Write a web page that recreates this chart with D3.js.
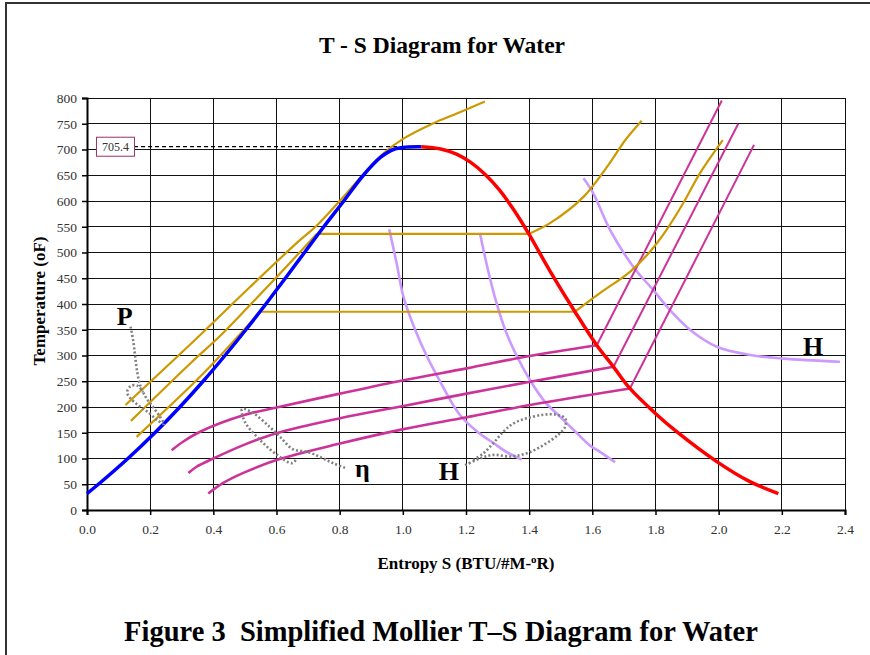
<!DOCTYPE html>
<html>
<head>
<meta charset="utf-8">
<script src="https://cdn.jsdelivr.net/npm/d3@7/dist/d3.min.js"></script>
<style>
  body { margin: 0; background: #fff; }
  text { font-family: "Liberation Serif", "DejaVu Serif", serif; }
</style>
</head>
<body>
<div id="chart"></div>
<script>
// axis ticks
const xTicks = [0, 0.2, 0.4, 0.6, 0.8, 1.0, 1.2, 1.4, 1.6, 1.8, 2.0, 2.2, 2.4];
const yTicks = [0, 50, 100, 150, 200, 250, 300, 350, 400, 450, 500, 550, 600, 650, 700, 750, 800];

// saturation dome (S, T)
const satLiquid = [[0, 32], [0.0361, 50], [0.1295, 100], [0.215, 150], [0.294, 200], [0.3677, 250],
  [0.4369, 300], [0.5029, 350], [0.5664, 400], [0.628, 450], [0.6887, 500], [0.7497, 550],
  [0.8131, 600], [0.875, 650], [0.93, 685], [0.97, 700], [1.01, 704.6], [1.058, 705.4]];
const satVapor = [[1.058, 705.4], [1.12, 701], [1.17, 691], [1.215, 675], [1.26, 652], [1.305, 622],
  [1.35, 584], [1.398, 537], [1.466, 464], [1.545, 385], [1.614, 320], [1.667, 278], [1.719, 236],
  [1.799, 188], [1.867, 152], [1.994, 94], [2.099, 55], [2.189, 32]];
const criticalT = 705.4;

// constant pressure lines (gold)
const isobarHigh = [[0.122, 204], [0.34, 329], [0.516, 433], [0.674, 524], [0.727, 552], [0.8, 600],
  [0.864, 644], [0.938, 692], [1.002, 721], [1.097, 751], [1.171, 770], [1.26, 793]];
const isobarMidLiquid = [[0.139, 173], [0.326, 284], [0.421, 338], [0.516, 398], [0.62, 465], [0.727, 536]];
const isobarMidVapor = [[1.398, 536], [1.466, 557], [1.572, 608], [1.651, 670], [1.704, 718], [1.756, 756]];
const isobarLowLiquid = [[0.157, 142], [0.36, 260], [0.548, 385]];
const isobarLowVapor = [[1.545, 385], [1.624, 421], [1.72, 463], [1.783, 502], [1.835, 544],
  [1.888, 596], [1.941, 654], [2.013, 718]];

// magenta lines: wet region part and superheated straight part
const magentaUpper = [[0.268, 116], [0.305, 133], [0.358, 152], [0.495, 184], [0.6, 199], [0.801, 226],
  [1.002, 252], [1.202, 275], [1.392, 298], [1.614, 320]];
const magentaUpperHot = [[1.614, 320], [2.01, 795]];
const magentaMid = [[0.321, 72], [0.347, 84], [0.4, 100], [0.495, 126], [0.6, 149], [0.801, 178],
  [1.002, 202], [1.202, 226], [1.403, 249], [1.667, 278]];
const magentaMidHot = [[1.667, 278], [2.062, 750]];
const magentaLow = [[0.384, 32], [0.43, 52], [0.495, 72], [0.6, 97], [0.801, 129], [1.002, 157],
  [1.202, 180], [1.403, 204], [1.719, 236]];
const magentaLowHot = [[1.719, 236], [2.112, 709]];

// constant enthalpy lines (lavender)
const enthalpy1 = [[0.957, 545], [0.98, 480], [1.002, 414], [1.039, 350], [1.075, 300], [1.107, 262],
  [1.18, 185], [1.24, 150], [1.287, 130], [1.33, 112], [1.376, 98]];
const enthalpy2 = [[1.244, 538], [1.27, 465], [1.297, 401], [1.324, 350], [1.36, 300], [1.403, 252],
  [1.45, 210], [1.498, 181], [1.55, 150], [1.593, 125], [1.624, 113], [1.672, 93]];
const enthalpy3 = [[1.572, 644], [1.603, 615], [1.656, 544], [1.73, 472], [1.793, 427], [1.846, 388],
  [1.909, 350], [1.994, 317], [2.1, 301], [2.205, 294], [2.384, 288]];

// dotted pointer curves
const pointerP = [[0.138, 356], [0.146, 330], [0.152, 301], [0.158, 272], [0.168, 243], [0.187, 218],
  [0.209, 200], [0.231, 181], [0.244, 167], [0.222, 175], [0.193, 190], [0.161, 204], [0.136, 218],
  [0.127, 229], [0.139, 241], [0.161, 241], [0.177, 229]];
const pointerEta = [[0.817, 82], [0.779, 91], [0.738, 103], [0.697, 113], [0.652, 118], [0.611, 142],
  [0.579, 161], [0.522, 190], [0.491, 196], [0.5, 171], [0.548, 136], [0.602, 107], [0.649, 91], [0.665, 101]];
const pointerH = [[1.197, 87], [1.244, 100], [1.287, 107], [1.339, 104], [1.392, 110], [1.445, 126],
  [1.492, 146], [1.514, 162], [1.514, 178], [1.487, 185], [1.445, 185], [1.392, 178], [1.35, 168],
  [1.318, 152], [1.287, 130], [1.255, 110], [1.223, 97]];

// label anchors (S, T)
const labels = [["P", 0.119, 359], ["\u03b7", 0.872, 64], ["H", 1.146, 58], ["H", 2.299, 301]];

const width = 870, height = 655;
const svg = d3.select("#chart").append("svg")
  .attr("width", width)
  .attr("height", height);

const x = d3.scaleLinear().domain([0, 2.4]).range([87, 845]);
const y = d3.scaleLinear().domain([0, 800]).range([510, 98]);

// page frame (cropped document)
svg.append("line").attr("x1", 5).attr("x2", 870).attr("y1", 3).attr("y2", 3)
  .attr("stroke", "#333").attr("stroke-width", 2);
svg.append("line").attr("x1", 6).attr("x2", 6).attr("y1", 2).attr("y2", 655)
  .attr("stroke", "#333").attr("stroke-width", 2);

// gridlines
const grid = svg.append("g").attr("shape-rendering", "crispEdges");
grid.selectAll(".vg").data(xTicks).enter().append("line")
  .attr("x1", d => x(d)).attr("x2", d => x(d))
  .attr("y1", y(800)).attr("y2", y(0))
  .attr("stroke", "#111").attr("stroke-width", 1);
grid.selectAll(".hg").data(yTicks).enter().append("line")
  .attr("x1", x(0)).attr("x2", x(2.4))
  .attr("y1", d => y(d)).attr("y2", d => y(d))
  .attr("stroke", "#111").attr("stroke-width", 1);

// axes
const xAxis = svg.append("g")
  .attr("transform", `translate(0,${y(0)})`)
  .call(d3.axisBottom(x).tickValues(xTicks).tickFormat(d3.format(".1f")).tickSize(5).tickPadding(9));
const yAxis = svg.append("g")
  .attr("transform", `translate(${x(0)},0)`)
  .call(d3.axisLeft(y).tickValues(yTicks).tickSize(5).tickPadding(5));
[xAxis, yAxis].forEach(g => {
  g.select(".domain").attr("stroke", "#000").attr("stroke-width", 2);
  g.selectAll(".tick line").attr("stroke", "#000").attr("stroke-width", 1.5);
  g.selectAll(".tick text")
    .style("font-family", "'Liberation Serif', serif")
    .style("font-size", "13.5px")
    .attr("fill", "#333");
});

const line = d3.line().x(d => x(d[0])).y(d => y(d[1])).curve(d3.curveCatmullRom.alpha(0.5));
const straight = d3.line().x(d => x(d[0])).y(d => y(d[1]));

function draw(data, color, w, gen) {
  return svg.append("path")
    .datum(data)
    .attr("fill", "none")
    .attr("stroke", color)
    .attr("stroke-width", w)
    .attr("stroke-linejoin", "round")
    .attr("d", gen || line);
}

// dashed critical-point marker
draw([[0.149, criticalT], [1.0, criticalT]], "#000", 1.2, straight).attr("stroke-dasharray", "4,3");

// lavender enthalpy lines
[enthalpy1, enthalpy2, enthalpy3].forEach(d => draw(d, "#cc99ff", 2.6));

// magenta lines
[magentaUpper, magentaMid, magentaLow].forEach(d => draw(d, "#cc3399", 2.6));
[magentaUpperHot, magentaMidHot, magentaLowHot].forEach(d => draw(d, "#cc3399", 2, straight));

// gold isobars
draw(isobarHigh, "#cc9900", 2.2);
draw(isobarMidLiquid, "#cc9900", 2.2);
draw([isobarMidLiquid[isobarMidLiquid.length - 1], isobarMidVapor[0]], "#cc9900", 2.2, straight);
draw(isobarMidVapor, "#cc9900", 2.2);
draw(isobarLowLiquid, "#cc9900", 2.2);
draw([isobarLowLiquid[isobarLowLiquid.length - 1], isobarLowVapor[0]], "#cc9900", 2.2, straight);
draw(isobarLowVapor, "#cc9900", 2.2);

// saturation dome
draw(satLiquid, "#0000ff", 3.5);
draw(satVapor, "#ff0000", 3.5);

// dotted pointers
[pointerP, pointerEta, pointerH].forEach(d =>
  draw(d, "#808080", 2.6).attr("stroke-dasharray", "2,2.2"));

// critical temperature box
const box = svg.append("g").attr("transform", `translate(${x(0.03)},${y(criticalT) - 9.5})`);
box.append("rect").attr("width", 38).attr("height", 19)
  .attr("fill", "#fff").attr("stroke", "#993366").attr("stroke-width", 1);
box.append("text").attr("x", 19).attr("y", 13.5).attr("text-anchor", "middle")
  .style("font-size", "12px").attr("fill", "#333").text("705.4");

// curve labels
svg.selectAll(".lbl").data(labels).enter().append("text")
  .attr("x", d => x(d[1])).attr("y", d => y(d[2]))
  .attr("text-anchor", "middle")
  .style("font-size", "26px").style("font-weight", "bold")
  .text(d => d[0]);

// titles
svg.append("text").attr("x", 442).attr("y", 53).attr("text-anchor", "middle")
  .style("font-size", "23.5px").style("font-weight", "bold").text("T - S Diagram for Water");

const xl = svg.append("text").attr("x", 466).attr("y", 569).attr("text-anchor", "middle")
  .style("font-size", "17px").style("font-weight", "bold");
xl.append("tspan").text("Entropy S (BTU/#M-");
xl.append("tspan").attr("dy", -6).style("font-size", "11px").text("o");
xl.append("tspan").attr("dy", 6).text("R)");

svg.append("text").attr("transform", "translate(45,301) rotate(-90)").attr("text-anchor", "middle")
  .style("font-size", "17px").style("font-weight", "bold").text("Temperature (oF)");

svg.append("text").attr("x", 441).attr("y", 641).attr("text-anchor", "middle")
  .style("font-size", "28.5px").style("font-weight", "bold")
  .text("Figure 3\u00a0 Simplified Mollier T\u2013S Diagram for Water");
</script>
</body>
</html>
